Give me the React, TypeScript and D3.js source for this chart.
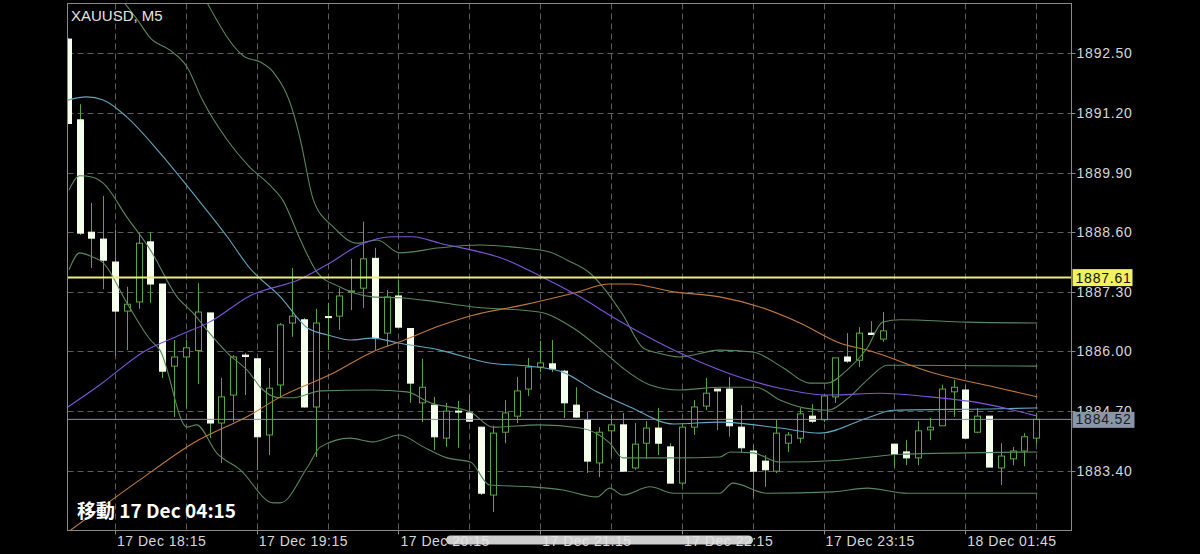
import React from "react";
import * as d3 from "d3";

// ---- Candles (XAUUSD M5), bar index 0..82 ----
const opens = [
  1892.81, 1891.05, 1888.6, 1888.45, 1887.95, 1886.88, 1887.08, 1888.39, 1887.47, 1885.68,
  1885.88, 1886.02, 1886.84, 1884.44, 1885.05, 1885.92, 1885.84, 1884.18, 1885.27, 1886.62,
  1886.69, 1884.79, 1886.76, 1886.77, 1887.3, 1887.38, 1888.03, 1886.4, 1887.21, 1886.5,
  1884.88, 1884.83, 1884.11, 1884.7, 1884.66, 1884.35, 1882.87, 1884.24, 1884.59, 1885.18,
  1885.66, 1885.73, 1885.57, 1884.83, 1884.51, 1883.57, 1884.27, 1884.4, 1883.46, 1884.0,
  1884.33, 1883.92, 1883.13, 1884.35, 1884.81, 1885.18, 1885.18, 1884.35, 1883.83, 1883.61,
  1883.39, 1884.0, 1884.11, 1884.59, 1884.51, 1885.01, 1885.88, 1885.81, 1886.4, 1886.27,
  1883.98, 1883.81, 1883.68, 1884.29, 1884.38, 1885.12, 1885.16, 1884.24, 1884.59, 1883.46,
  1883.66, 1883.83, 1884.11,
];
const highs = [
  1892.83, 1891.39, 1889.24, 1889.39, 1888.65, 1887.41, 1888.58, 1888.6, 1887.47, 1886.25,
  1886.25, 1887.49, 1886.84, 1885.42, 1885.92, 1885.97, 1885.84, 1885.64, 1886.62, 1887.82,
  1886.73, 1886.93, 1887.06, 1887.38, 1888.02, 1888.83, 1888.26, 1887.34, 1887.56, 1886.5,
  1885.84, 1885.01, 1884.88, 1884.92, 1885.05, 1884.35, 1884.38, 1884.94, 1885.44, 1885.86,
  1886.23, 1886.25, 1885.6, 1885.22, 1884.68, 1884.35, 1884.62, 1884.66, 1884.44, 1884.48,
  1884.77, 1884.0, 1884.44, 1884.94, 1885.42, 1885.18, 1885.44, 1884.83, 1883.96, 1883.74,
  1884.51, 1884.24, 1884.77, 1884.85, 1885.07, 1885.86, 1886.4, 1886.53, 1886.66, 1886.86,
  1883.98, 1884.07, 1884.48, 1884.55, 1885.27, 1885.38, 1885.27, 1884.77, 1884.59, 1884.0,
  1883.92, 1884.22, 1884.66,
];
const lows = [
  1890.97, 1888.54, 1887.82, 1887.36, 1885.9, 1886.03, 1886.93, 1887.06, 1885.42, 1884.57,
  1884.77, 1885.29, 1884.11, 1883.57, 1884.46, 1885.05, 1883.42, 1883.74, 1884.99, 1886.32,
  1884.77, 1883.7, 1886.03, 1886.47, 1886.9, 1886.95, 1886.03, 1886.12, 1886.53, 1884.88,
  1884.46, 1883.85, 1883.92, 1883.9, 1884.46, 1882.87, 1882.5, 1884.0, 1884.44, 1885.03,
  1885.55, 1885.55, 1884.55, 1884.55, 1883.35, 1883.26, 1883.7, 1883.39, 1883.42, 1883.66,
  1883.74, 1883.13, 1883.09, 1884.18, 1884.72, 1884.29, 1884.14, 1883.79, 1882.83, 1883.05,
  1883.35, 1883.81, 1884.0, 1884.44, 1884.46, 1884.88, 1885.75, 1885.66, 1886.36, 1886.21,
  1883.48, 1883.52, 1883.52, 1884.07, 1884.38, 1884.57, 1884.11, 1884.22, 1883.48, 1883.09,
  1883.52, 1883.5, 1883.98,
];
const closes = [
  1890.97, 1888.58, 1888.47, 1887.99, 1886.88, 1887.03, 1888.36, 1887.47, 1885.57, 1885.88,
  1886.08, 1886.86, 1884.44, 1885.01, 1885.88, 1885.89, 1884.14, 1885.2, 1886.58, 1886.77,
  1884.79, 1886.62, 1886.74, 1887.21, 1887.32, 1888.02, 1886.29, 1887.19, 1886.53, 1885.31,
  1885.22, 1884.14, 1884.7, 1884.68, 1884.48, 1882.91, 1884.22, 1884.66, 1885.14, 1885.66,
  1885.75, 1885.62, 1884.88, 1884.57, 1883.61, 1884.24, 1884.4, 1883.39, 1883.98, 1884.33,
  1884.0, 1883.13, 1884.35, 1884.79, 1885.09, 1885.14, 1884.38, 1883.9, 1883.39, 1883.42,
  1884.22, 1884.18, 1884.64, 1884.48, 1885.03, 1885.86, 1885.79, 1886.4, 1886.37, 1886.45,
  1883.76, 1883.68, 1884.27, 1884.35, 1885.18, 1885.22, 1884.11, 1884.59, 1883.48, 1883.72,
  1883.83, 1884.14, 1884.52,
];

// ---- Indicator lines (bar index, price) ----
const midBars = [0, 1.6, 3, 5, 7.8, 10.6, 13.5, 15.4, 18, 20.3, 22, 23.9, 25.8, 28.1, 31.5, 35.7, 39.1, 41.9, 44.8, 47.6, 51.3, 55.2, 60.3, 63.7, 67.7, 69.9, 78.9, 82.1];
const midPrices = [1891.48, 1891.55, 1891.48, 1891.11, 1890.33, 1889.45, 1888.5, 1887.82, 1887.19, 1886.51, 1886.36, 1886.25, 1886.29, 1886.18, 1886.03, 1885.75, 1885.68, 1885.55, 1885.12, 1884.79, 1884.42, 1884.46, 1884.33, 1884.22, 1884.55, 1884.72, 1884.75, 1884.77];

const purpleBars = [0, 2.7, 6.4, 9.5, 12, 15.4, 19.7, 22.2, 24.7, 27.5, 29.2, 31.5, 37.2, 40.2, 43.1, 47, 51.8, 56.1, 60.3, 64.5, 68.8, 73, 77.2, 82.1];
const purplePrices = [1884.79, 1885.27, 1885.99, 1886.36, 1886.64, 1887.21, 1887.58, 1887.93, 1888.32, 1888.5, 1888.5, 1888.36, 1887.99, 1887.62, 1887.23, 1886.62, 1885.97, 1885.51, 1885.2, 1885.05, 1885.09, 1885.01, 1884.88, 1884.59];

const orangeBars = [0, 6.1, 10.6, 15.4, 18, 22.5, 25.8, 28.1, 31.5, 34.3, 38.5, 42.8, 45.9, 47.6, 51.3, 55.2, 58.6, 62, 65.4, 67.7, 73.3, 78.9, 82.1];
const orangePrices = [1882.06, 1883.2, 1884.0, 1884.61, 1885.01, 1885.53, 1885.99, 1886.21, 1886.56, 1886.79, 1887.01, 1887.27, 1887.47, 1887.47, 1887.3, 1887.19, 1886.97, 1886.62, 1886.18, 1886.03, 1885.53, 1885.2, 1885.01];

const upper2Bars = [11.8, 15, 16.3, 17.4, 19.1, 19.7, 20.8, 22.5, 24.5, 26.2, 28.1, 31.5, 34.9, 38.3, 40.8, 42.3, 44.2, 45.3, 47, 48.7, 49.9, 51.8, 55.2, 58, 60.6, 62.8, 64.3, 66, 67.7, 69, 70.5, 76.1, 82.1];
const upper2Prices = [1893.6, 1892.42, 1892.31, 1892.09, 1891.2, 1890.61, 1889.3, 1888.71, 1888.36, 1888.43, 1888.15, 1888.26, 1888.32, 1888.26, 1888.17, 1887.99, 1887.71, 1887.41, 1886.8, 1886.08, 1885.97, 1885.88, 1886.03, 1885.99, 1885.64, 1885.31, 1885.31, 1885.6, 1886.08, 1886.64, 1886.69, 1886.64, 1886.62];

const upper1Bars = [4.6, 5.9, 7, 8.65, 10.1, 11.4, 13.5, 15.4, 17.1, 18.2, 19.7, 21.1, 23, 25.8, 28.1, 30.1, 34.3, 39.9, 42.8, 45.7, 47, 49.3, 51.8, 55.2, 58.3, 60.3, 62.3, 64.3, 66.2, 67.7, 69.4, 82.1];
const upper1Prices = [1893.66, 1893.23, 1892.83, 1892.57, 1892.2, 1891.48, 1890.61, 1890.02, 1889.63, 1889.3, 1888.43, 1887.73, 1887.41, 1887.19, 1887.17, 1887.12, 1886.97, 1886.86, 1886.51, 1885.92, 1885.64, 1885.27, 1885.16, 1885.22, 1885.22, 1884.94, 1884.77, 1884.72, 1885.01, 1885.38, 1885.7, 1885.68];

const lower1Bars = [0.1, 1, 2.1, 3, 5, 7, 9.25, 10.6, 12, 13.5, 15.4, 16.3, 18, 19.1, 21.4, 25.8, 28.7, 30.7, 34.1, 36, 39.9, 43.4, 45.9, 47, 51.3, 55.2, 56.1, 58, 60.3, 65.4, 70.5, 76.1, 82.1];
const lower1Prices = [1889.52, 1889.83, 1889.8, 1889.67, 1888.93, 1888.21, 1887.19, 1886.84, 1886.4, 1885.97, 1885.53, 1885.22, 1884.99, 1884.99, 1885.14, 1885.16, 1885.12, 1884.88, 1884.68, 1884.35, 1884.4, 1884.33, 1884.0, 1883.68, 1883.68, 1883.7, 1883.81, 1883.79, 1883.59, 1883.63, 1883.76, 1883.79, 1883.81];

const lower2Bars = [0.1, 1, 2.1, 3, 5, 7, 7.8, 10.1, 10.9, 12.6, 14.6, 17.4, 18, 20.3, 21.4, 23.9, 25.8, 28.1, 30.1, 32.1, 34.1, 35.7, 39.1, 41.9, 44.8, 45.9, 47, 49.3, 51.3, 55.2, 56.3, 59.2, 64.8, 67.7, 71.1, 82.1];
const lower2Prices = [1887.78, 1888.15, 1888.06, 1887.93, 1887.06, 1886.25, 1886.03, 1884.35, 1884.4, 1883.79, 1883.42, 1882.7, 1882.7, 1883.48, 1883.92, 1884.11, 1884.03, 1884.18, 1883.92, 1883.68, 1883.59, 1883.09, 1883.05, 1882.98, 1882.83, 1883.02, 1882.87, 1883.05, 1882.91, 1882.91, 1883.13, 1882.91, 1882.94, 1883.02, 1882.91, 1882.91];

// ---- Axes ----
const priceTicks = [1892.5, 1891.2, 1889.9, 1888.6, 1887.3, 1886.0, 1884.7, 1883.4];
const timeLabelBars = [4, 16, 28, 40, 52, 64, 76];
const timeLabels = ["17 Dec 18:15", "17 Dec 19:15", "17 Dec 20:15", "17 Dec 21:15", "17 Dec 22:15", "17 Dec 23:15", "18 Dec 01:45"];
const gridBars = [4, 10, 16, 22, 28, 34, 40, 46, 52, 58, 64, 70, 76, 82];
const bidLevel = 1887.61;
const lastPrice = 1884.52;
const title = "XAUUSD, M5";
const cursorLabel = "移動 17 Dec 04:15";

const W = 1200;
const H = 554;
const L = 67.5;
const R = 1071.5;
const T = 3.5;
const B = 530.5;

const GREEN = "#5aa63c";
const BODY_WHITE = "#f4ffec";
const BAND = "#58885f";
const MID = "#62a6bf";
const PURPLE = "#7d55d8";
const ORANGE = "#c27a3c";
const GRID = "#5e5e5e";
const AXIS = "#8a8a8a";
const LABEL = "#d8d8d8";
const AXIS_FONT = "'Liberation Sans', Arial, sans-serif";

export default function App() {
  const x = d3.scaleLinear().domain([0, 82]).range([67.8, 1036.2]);
  const y = d3.scaleLinear().domain([1882.097, 1893.586]).range([B, T]);

  const mk = (bars: number[], prices: number[]) =>
    d3
      .line<number>()
      .x((_, i) => x(bars[i]))
      .y((p) => y(p))
      .curve(d3.curveMonotoneX)(prices) || "";

  const bodyW = 6;

  return (
    <svg
      width={W}
      height={H}
      style={{ position: "fixed", left: 0, top: 0, display: "block" }}
      xmlns="http://www.w3.org/2000/svg"
    >
      <defs>
        <clipPath id="plot">
          <rect x={L} y={T} width={R - L} height={B - T} />
        </clipPath>
      </defs>
      <rect x={0} y={0} width={W} height={H} fill="#000" />

      {/* grid */}
      <g stroke={GRID} strokeWidth={1} strokeDasharray="6,4">
        {priceTicks.map((p) => (
          <line key={"h" + p} x1={L} x2={R} y1={Math.round(y(p)) + 0.5} y2={Math.round(y(p)) + 0.5} />
        ))}
        {gridBars.map((b) => (
          <line key={"v" + b} x1={Math.round(x(b)) + 0.5} x2={Math.round(x(b)) + 0.5} y1={T} y2={B} />
        ))}
      </g>

      <g clipPath="url(#plot)">
        {/* candles */}
        {opens.map((o, i) => {
          const c = closes[i];
          const cx = Math.round(x(i)) + 0.5;
          const top = y(Math.max(o, c));
          const bot = y(Math.min(o, c));
          const bear = c < o;
          const h = Math.max(1, bot - top);
          return (
            <g key={i}>
              <line x1={cx} x2={cx} y1={y(highs[i])} y2={y(lows[i])} stroke={GREEN} strokeWidth={1} />
              <rect
                x={cx - bodyW / 2}
                y={top}
                width={bodyW}
                height={h}
                fill={bear ? BODY_WHITE : "#000"}
                stroke={bear ? BODY_WHITE : GREEN}
                strokeWidth={1}
              />
            </g>
          );
        })}

        {/* indicators */}
        <g fill="none" strokeWidth={1.1}>
          <path d={mk(upper2Bars, upper2Prices)} stroke={BAND} />
          <path d={mk(upper1Bars, upper1Prices)} stroke={BAND} />
          <path d={mk(lower1Bars, lower1Prices)} stroke={BAND} />
          <path d={mk(lower2Bars, lower2Prices)} stroke={BAND} />
          <path d={mk(midBars, midPrices)} stroke={MID} />
          <path d={mk(orangeBars, orangePrices)} stroke={ORANGE} />
          <path d={mk(purpleBars, purplePrices)} stroke={PURPLE} />
        </g>

        {/* price levels */}
        <line x1={L} x2={R} y1={y(lastPrice)} y2={y(lastPrice)} stroke="#8e8ea2" strokeWidth={1} />
        <line x1={L} x2={R} y1={y(bidLevel)} y2={y(bidLevel)} stroke="#ecec7e" strokeWidth={2} />
      </g>

      {/* frame */}
      <rect x={L} y={T} width={R - L} height={B - T} fill="none" stroke={AXIS} strokeWidth={1} />

      {/* right axis */}
      {priceTicks.map((p) => (
        <g key={"pt" + p}>
          <line x1={R} x2={R + 4} y1={Math.round(y(p)) + 0.5} y2={Math.round(y(p)) + 0.5} stroke={AXIS} />
          <text
            x={R + 5}
            y={y(p) + 5}
            fill={LABEL}
            fontSize={14}
            fontFamily={AXIS_FONT}
            letterSpacing={0.8}
          >
            {p.toFixed(2)}
          </text>
        </g>
      ))}

      {/* bottom axis */}
      {timeLabelBars.map((b, i) => (
        <g key={"tl" + b}>
          <line x1={Math.round(x(b)) + 0.5} x2={Math.round(x(b)) + 0.5} y1={B} y2={B + 4} stroke={AXIS} />
          <text
            x={x(b) + 2}
            y={546}
            fill={LABEL}
            fontSize={14}
            fontFamily={AXIS_FONT}
            letterSpacing={0.5}
          >
            {timeLabels[i]}
          </text>
        </g>
      ))}

      {/* current price boxes */}
      <rect x={R + 1} y={y(bidLevel) - 8.5} width={60} height={17} fill="#f2f25c" />
      <text x={R + 4} y={y(bidLevel) + 5} fill="#111" fontSize={14} fontFamily={AXIS_FONT} letterSpacing={0.8}>
        {bidLevel.toFixed(2)}
      </text>
      <rect x={R + 1} y={y(lastPrice) - 7.5} width={62} height={16} fill="#8b95a8" />
      <text x={R + 4} y={y(lastPrice) + 5} fill="#1c1c22" fontSize={14} fontFamily={AXIS_FONT} letterSpacing={0.8}>
        {lastPrice.toFixed(2)}
      </text>

      {/* title and cursor label */}
      <text x={71} y={20.5} fill="#e2e2e2" fontSize={15} fontFamily={AXIS_FONT}>
        {title}
      </text>
      <text
        x={77}
        y={518}
        fill="#ffffff"
        fontSize={19}
        fontWeight={600}
        fontFamily="'Noto Sans CJK JP', 'Noto Sans', sans-serif"
      >
        {cursorLabel}
      </text>

      {/* scroll indicator */}
      <rect x={446} y={535.5} width={307} height={9} rx={4.5} fill="#e4e4e4" opacity={0.9} />
    </svg>
  );
}
